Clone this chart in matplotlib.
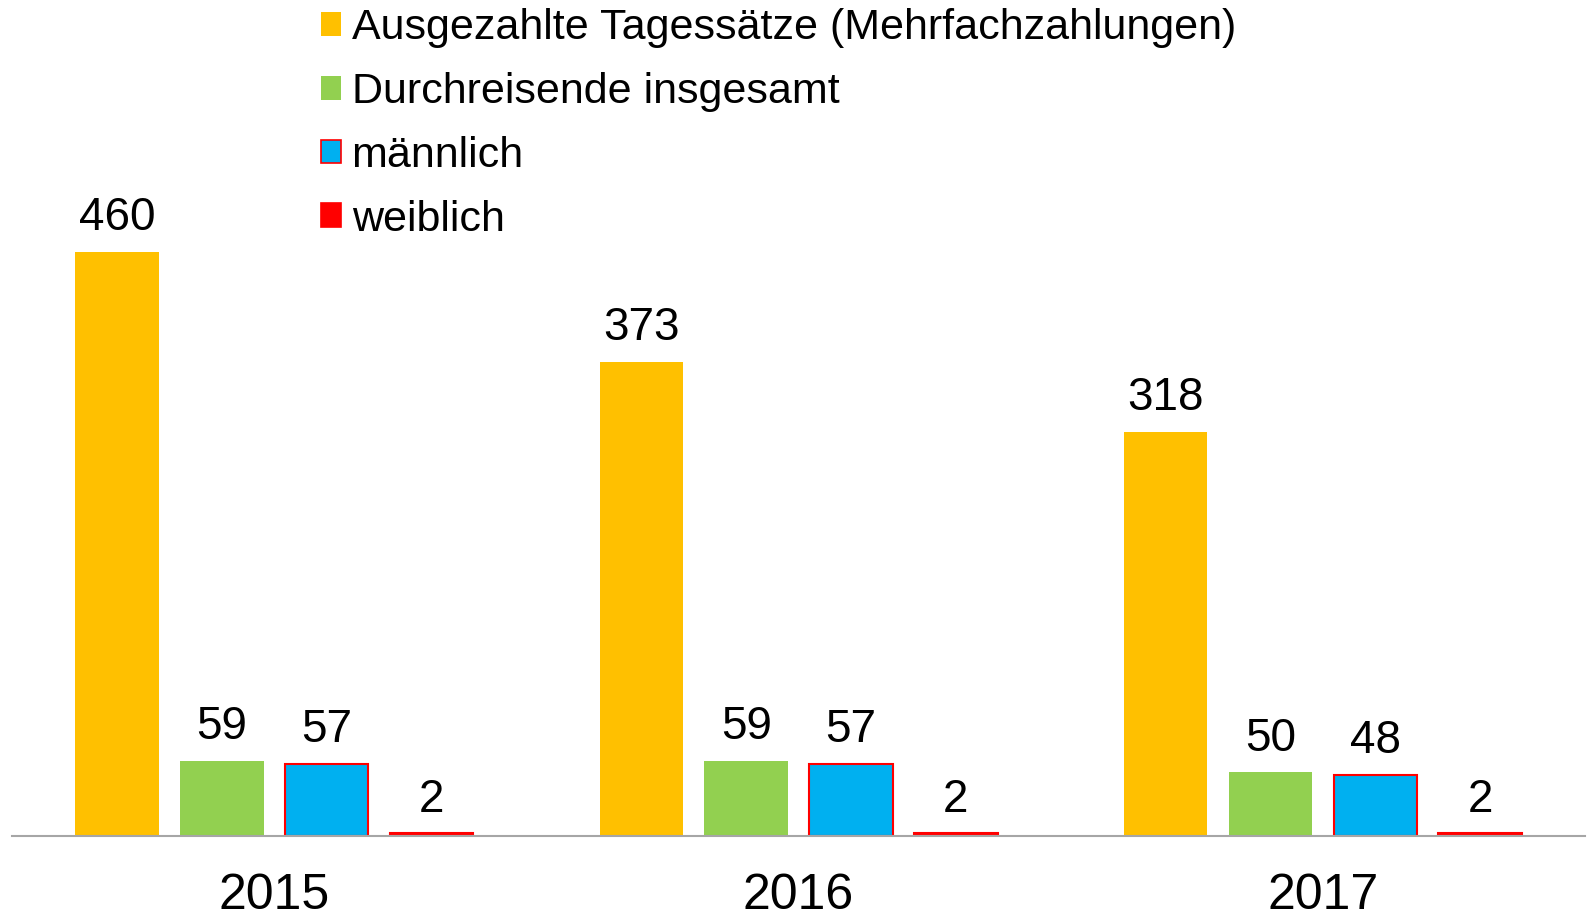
import numpy as np
import matplotlib
matplotlib.use("Agg")
import matplotlib.pyplot as plt
from matplotlib.patches import Patch

plt.rcParams["font.family"] = ["Liberation Sans", "DejaVu Sans"]

years = ["2015", "2016", "2017"]
series_names = [
    "Ausgezahlte Tagessätze (Mehrfachzahlungen)",
    "Durchreisende insgesamt",
    "männlich",
    "weiblich",
]
tagessaetze = [460, 373, 318]
durchreisende = [59, 59, 50]
maennlich = [57, 57, 48]
weiblich = [2, 2, 2]

series = [tagessaetze, durchreisende, maennlich, weiblich]
fills = ["#FFC000", "#92D050", "#00B0F0", "#FF0000"]
edges = [None, None, "#FF0000", "#FF0000"]

W, H = 1591, 916
fig = plt.figure(figsize=(W / 100, H / 100), dpi=100)
ax = fig.add_axes([12.2 / W, (H - 836) / H, 1572.8 / W, 836 / H])

x = np.arange(len(years))
width = 0.159
offsets = [-0.3, -0.1, 0.1, 0.3]

for vals, off, fc, ec in zip(series, offsets, fills, edges):
    bars = ax.bar(x + off, vals, width, color=fc,
                  edgecolor=ec if ec else fc, linewidth=1.5 if ec else 0)
    for b, v in zip(bars, vals):
        ax.annotate(str(v), (b.get_x() + b.get_width() / 2, v),
                    xytext=(0, 15.6), textcoords="offset points",
                    ha="center", va="baseline", fontsize=33)

ax.set_xlim(-0.5, 2.5)
ax.set_ylim(0, 658)
ax.set_xticks(x)
ax.set_xticklabels(years, fontsize=36)
ax.tick_params(axis="x", length=0, pad=26.5)
ax.set_yticks([])
for s in ["top", "right", "left"]:
    ax.spines[s].set_visible(False)
ax.spines["bottom"].set_color("#A6A6A6")
ax.spines["bottom"].set_linewidth(1.5)

handles = [Patch(facecolor=fc, edgecolor=ec if ec else fc, linewidth=1.2 if ec else 0)
           for fc, ec in zip(fills, edges)]
fig.legend(handles, series_names, loc="upper left",
           bbox_to_anchor=(321 / W, 1 - 8.5 / H), bbox_transform=fig.transFigure,
           frameon=False, fontsize=31, borderpad=0, borderaxespad=0,
           handlelength=0.47, handleheight=0.47, handletextpad=0.24,
           labelspacing=0.55)

fig.savefig("out.png", dpi=100)
